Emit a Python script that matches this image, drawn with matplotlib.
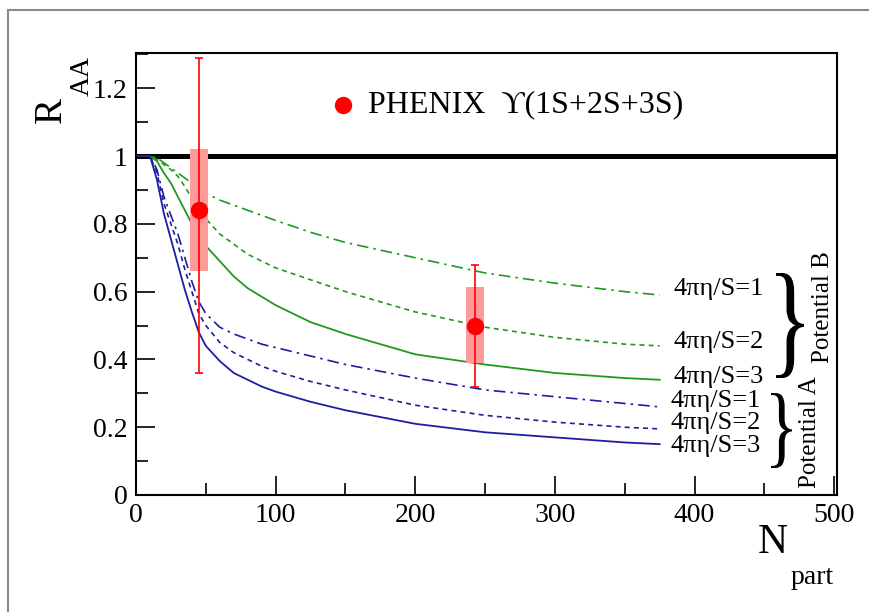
import matplotlib
matplotlib.use("Agg")
import matplotlib.pyplot as plt
from matplotlib.lines import Line2D
from matplotlib.patches import PathPatch
from matplotlib.textpath import TextPath
from matplotlib.font_manager import FontProperties
from matplotlib.transforms import Affine2D
from matplotlib.ticker import MultipleLocator, FixedLocator

plt.rcParams['font.family'] = ['Liberation Serif', 'DejaVu Serif']

# model curves, R_AA vs N_part
npart = [0, 10, 15, 20, 25, 30, 35, 40, 45, 50, 60, 70, 80, 90, 100, 125, 150, 200, 250, 300, 350, 375]
potB_eta1 = [1.0, 1.0, 0.995, 0.98, 0.965, 0.95, 0.935, 0.92, 0.905, 0.89, 0.87, 0.855, 0.84, 0.825, 0.81,
             0.775, 0.745, 0.70, 0.655, 0.625, 0.60, 0.59]
potB_eta2 = [1.0, 1.0, 0.99, 0.975, 0.96, 0.94, 0.91, 0.875, 0.845, 0.815, 0.77, 0.74, 0.71, 0.69, 0.67,
             0.635, 0.60, 0.54, 0.495, 0.465, 0.445, 0.44]
potB_eta3 = [1.0, 1.0, 0.985, 0.95, 0.92, 0.88, 0.84, 0.80, 0.765, 0.735, 0.69, 0.645, 0.61, 0.585, 0.56,
             0.51, 0.475, 0.415, 0.385, 0.36, 0.345, 0.34]
potA_eta1 = [1.0, 1.0, 0.96, 0.88, 0.825, 0.77, 0.70, 0.63, 0.57, 0.535, 0.495, 0.475, 0.46, 0.445, 0.435,
             0.41, 0.385, 0.345, 0.31, 0.29, 0.27, 0.26]
potA_eta2 = [1.0, 1.0, 0.95, 0.86, 0.80, 0.74, 0.665, 0.60, 0.535, 0.50, 0.45, 0.42, 0.40, 0.38, 0.365,
             0.335, 0.31, 0.265, 0.235, 0.215, 0.20, 0.195]
potA_eta3 = [1.0, 1.0, 0.93, 0.83, 0.755, 0.68, 0.605, 0.54, 0.48, 0.44, 0.395, 0.36, 0.34, 0.32, 0.305,
             0.275, 0.25, 0.21, 0.185, 0.17, 0.155, 0.15]

# PHENIX data
data_npart = [45, 243]
data_raa = [0.84, 0.50]
stat_lo = [0.36, 0.32]
stat_hi = [1.29, 0.68]
syst_lo = [0.66, 0.39]
syst_hi = [1.02, 0.615]

eta_labels = ['4\u03c0\u03b7/S=1', '4\u03c0\u03b7/S=2', '4\u03c0\u03b7/S=3']

W, H = 870, 612
fig = plt.figure(figsize=(W / 100, H / 100), dpi=100)
ax = fig.add_axes([136 / W, 1 - 495 / H, (837 - 136) / W, (495 - 53) / H])


def fxy(px, py):
    return px / W, 1 - py / H


green = '#1f9a1f'
blue = '#1e1ea0'
dashdot = (0, (7, 3, 1.5, 3))
dashed = (0, (3, 2.5))

ax.plot([0, 499], [1, 1], color='black', lw=3.6, zorder=2)

ax.plot(npart, potB_eta1, color=green, lw=1.2, ls=dashdot)
ax.plot(npart, potB_eta2, color=green, lw=1.2, ls=dashed)
ax.plot(npart, potB_eta3, color=green, lw=1.3, ls='-')
ax.plot(npart, potA_eta1, color=blue, lw=1.2, ls=dashdot)
ax.plot(npart, potA_eta2, color=blue, lw=1.2, ls=dashed)
ax.plot(npart, potA_eta3, color=blue, lw=1.3, ls='-')

for x, y, lo, hi, slo, shi in zip(data_npart, data_raa, stat_lo, stat_hi, syst_lo, syst_hi):
    ax.bar(x, shi - slo, bottom=slo, width=13, color='#ff9a9a', zorder=3)
    ax.errorbar([x], [y], yerr=[[y - lo], [hi - y]], fmt='none', ecolor='red',
                elinewidth=1.2, capsize=3, capthick=1.2, zorder=4)
    ax.plot([x], [y], 'o', color='red', ms=11.5, zorder=5)

# legend entry
ax.plot([148], [1.15], 'o', color='red', ms=11.5)
ax.text(166, 1.15, 'PHENIX  \u03d2(1S+2S+3S)', fontsize=23, va='center', ha='left')

ax.set_xlim(0, 502)
ax.set_ylim(0, 1.304)
ax.xaxis.set_major_locator(FixedLocator([0, 100, 200, 300, 400, 500]))
ax.xaxis.set_minor_locator(MultipleLocator(50))
ax.yaxis.set_major_locator(FixedLocator([0, 0.2, 0.4, 0.6, 0.8, 1.0, 1.2]))
ax.yaxis.set_minor_locator(MultipleLocator(0.1))
ax.set_xticklabels(['0', '100', '200', '300', '400', '500'])
ax.set_yticklabels(['0', '0.2', '0.4', '0.6', '0.8', '1', '1.2'])
ax.tick_params(which='both', direction='in', top=False, right=False, width=1.2, labelsize=20)
ax.tick_params(which='major', length=14, pad=6)
ax.tick_params(which='minor', length=8.5)
for s in ax.spines.values():
    s.set_linewidth(1.5)

# axis titles
fig.text(*fxy(51, 110), 'R', fontsize=28, rotation=90, ha='center', va='center')
fig.text(*fxy(82, 76), 'AA', fontsize=20, rotation=90, ha='center', va='center')
fig.text(*fxy(773, 543), 'N', fontsize=30, ha='center', va='center')
fig.text(*fxy(812, 577), 'part', fontsize=20, ha='center', va='center')

# curve labels
for py, lab in zip([289, 342, 377], eta_labels):
    fig.text(*fxy(674, py), lab, fontsize=19, ha='left', va='center')
for py, lab in zip([401, 423, 446], eta_labels):
    fig.text(*fxy(671, py), lab, fontsize=19, ha='left', va='center')


def brace(x0, x1, y0, y1):
    path = TextPath((0, 0), '}', size=1, prop=FontProperties(family='Liberation Serif'))
    bb = path.get_extents()
    fx0, fy1 = fxy(x0, y0)
    fx1, fy0 = fxy(x1, y1)
    tr = (Affine2D().translate(-bb.x0, -bb.y0)
          .scale((fx1 - fx0) / bb.width, (fy1 - fy0) / bb.height)
          .translate(fx0, fy0) + fig.transFigure)
    fig.add_artist(PathPatch(path, transform=tr, facecolor='black', edgecolor='none'))


brace(776, 804, 273, 378)
brace(771, 792, 393, 468)
fig.text(*fxy(823, 307), 'Potential B', fontsize=18, rotation=90, ha='center', va='center')
fig.text(*fxy(810, 432), 'Potential A', fontsize=18, rotation=90, ha='center', va='center')

# canvas border
fig.add_artist(Line2D([8 / W, 8 / W], [0, 1 - 10 / H], color='#8a8a8a', lw=1.5))
fig.add_artist(Line2D([8 / W, 1], [1 - 10 / H, 1 - 10 / H], color='#8a8a8a', lw=1.5))

fig.savefig('out.png', dpi=100)
